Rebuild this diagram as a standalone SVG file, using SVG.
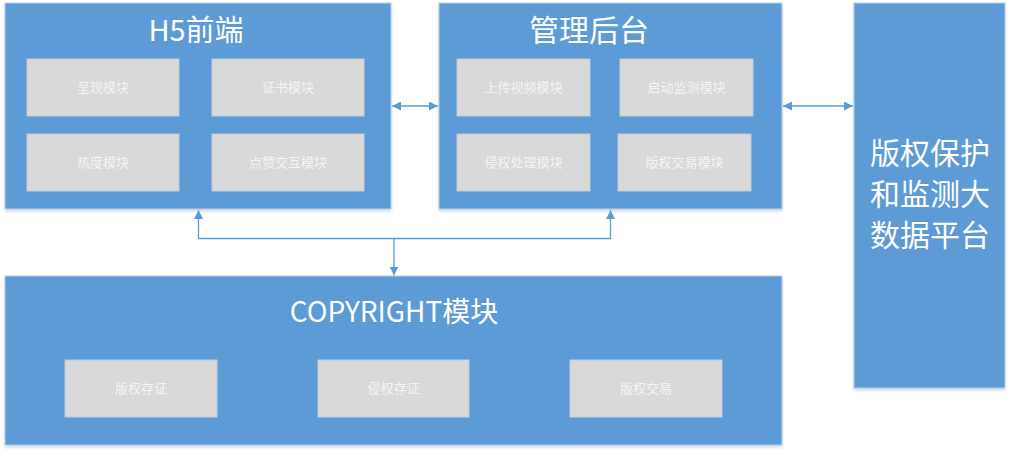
<svg xmlns="http://www.w3.org/2000/svg" width="1011" height="453" viewBox="0 0 1011 453">
<style>
.main{fill:#5b9bd5;stroke:#bcd0e6;stroke-width:1}
.sub{fill:#d9d9d9;stroke:#c4ccd6;stroke-width:1}
.t{font-family:"Noto Sans CJK SC","Noto Sans",sans-serif;fill:#ffffff;text-anchor:middle}
.st{font-family:"Noto Sans CJK SC","Noto Sans",sans-serif;fill:#f4f4f4;text-anchor:middle;font-size:13px}
.c{fill:none;stroke:#5b9bd5;stroke-width:1.3}
</style>
<defs>
<marker id="ah" viewBox="0 0 10 10" refX="10" refY="5" markerWidth="9" markerHeight="9" markerUnits="userSpaceOnUse" orient="auto-start-reverse">
<path d="M0,0 L10,5 L0,10 z" fill="#5b9bd5"/>
</marker>
<filter id="sh" x="-5%" y="-5%" width="110%" height="115%">
<feDropShadow dx="0" dy="2" stdDeviation="1.5" flood-color="#9fb8d4" flood-opacity="0.5"/>
</filter>
</defs>
<rect width="1011" height="453" fill="#ffffff"/>
<g id="connectors">
<line class="c" x1="392" y1="106" x2="438" y2="106" marker-start="url(#ah)" marker-end="url(#ah)"/>
<line class="c" x1="783" y1="106" x2="853" y2="106" marker-start="url(#ah)" marker-end="url(#ah)"/>
<polyline class="c" points="198.5,210 198.5,238.5 610.5,238.5 610.5,210" marker-start="url(#ah)" marker-end="url(#ah)"/>
<line class="c" x1="394" y1="238.5" x2="394" y2="275.5" marker-end="url(#ah)"/>
</g>
<g id="h5">
<rect class="main" x="5" y="3" width="386" height="206" filter="url(#sh)"/>
<text class="t" x="196" y="41" font-size="29">H5前端</text>
<rect class="sub" x="27" y="59" width="152" height="57"/>
<text class="st" x="103" y="92">呈现模块</text>
<rect class="sub" x="212" y="59" width="152" height="57"/>
<text class="st" x="288" y="92">证书模块</text>
<rect class="sub" x="27" y="134" width="152" height="57"/>
<text class="st" x="103" y="167">热度模块</text>
<rect class="sub" x="212" y="134" width="152" height="57"/>
<text class="st" x="288" y="167">点赞交互模块</text>
</g>
<g id="admin">
<rect class="main" x="439" y="3" width="343" height="206" filter="url(#sh)"/>
<text class="t" x="589" y="41" font-size="30">管理后台</text>
<rect class="sub" x="457" y="59" width="133" height="57"/>
<text class="st" x="523.5" y="92">上传视频模块</text>
<rect class="sub" x="620" y="59" width="133" height="57"/>
<text class="st" x="686.5" y="92">启动监测模块</text>
<rect class="sub" x="457" y="134" width="133" height="57"/>
<text class="st" x="523.5" y="167">侵权处理模块</text>
<rect class="sub" x="618" y="134" width="133" height="57"/>
<text class="st" x="684.5" y="167">版权交易模块</text>
</g>
<g id="platform">
<rect class="main" x="854" y="3" width="151" height="385" filter="url(#sh)"/>
<text class="t" font-size="30"><tspan x="930" y="164">版权保护</tspan><tspan x="930" y="205">和监测大</tspan><tspan x="930" y="246">数据平台</tspan></text>
</g>
<g id="copyright">
<rect class="main" x="5" y="276" width="777" height="169" filter="url(#sh)"/>
<text class="t" x="394" y="322" font-size="28">COPYRIGHT模块</text>
<rect class="sub" x="65" y="360" width="152" height="57"/>
<text class="st" x="141" y="393">版权存证</text>
<rect class="sub" x="318" y="360" width="151" height="57"/>
<text class="st" x="393.5" y="393">侵权存证</text>
<rect class="sub" x="570" y="360" width="152" height="57"/>
<text class="st" x="646" y="393">版权交易</text>
</g>
</svg>
